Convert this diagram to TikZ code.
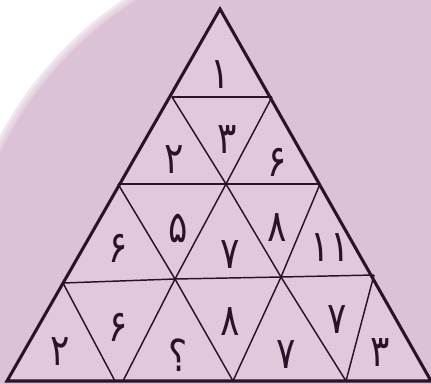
\documentclass[tikz,border=0pt]{standalone}
\usepackage{fontspec}
\newfontfamily\arabicfont[Script=Arabic, FakeStretch=0.82]{DejaVu Sans}
\usetikzlibrary{positioning}
\definecolor{pageBg}{RGB}{220,194,213}
\definecolor{cellFill}{RGB}{226,200,219}
\definecolor{lineInk}{RGB}{45,17,40}

\begin{document}
\begin{tikzpicture}[x=0.75pt, y=-0.75pt,
  outline/.style={draw=lineInk, line width=2.3pt, line join=miter},
  gridline/.style={draw=lineInk, line width=1.1pt},
  cellnum/.style={font=\arabicfont\fontsize{33}{33}\selectfont, text=lineInk, inner sep=0pt}]
  \useasboundingbox (0,0) rectangle (431,383);
  % background with the pale corner
  \fill[white] (0,0) rectangle (431,383);
  \begin{scope}
    \clip (0,0) rectangle (431,383);
    \foreach \d in {8,5,2}
      \fill[pageBg, opacity=0.4] (335,315) circle (372+\d);
    \fill[pageBg] (335,315) circle (372);
  \end{scope}
  % corners of the cells
  \coordinate (top) at (220,9);
  \coordinate (bl)  at (7,381);
  \coordinate (br)  at (431,381);
  \coordinate (r1l) at (172,97);
  \coordinate (r1r) at (272,97);
  \coordinate (r2l) at (118,184);
  \coordinate (r2m) at (226,184);
  \coordinate (r2r) at (320,184);
  \coordinate (r3l) at (63,283);
  \coordinate (r3a) at (175,279);
  \coordinate (r3b) at (281,277);
  \coordinate (r3r) at (374,275);
  \coordinate (b1)  at (115,381);
  \coordinate (b2)  at (123,381);
  \coordinate (b3)  at (233,381);
  \coordinate (b4)  at (346,381);
  \fill[cellFill] (top) -- (bl) -- (br) -- cycle;
  % inner lines
  \draw[gridline] (r1l) -- (r1r);
  \draw[gridline] (r1l) -- (r2m) -- (r1r);
  \draw[gridline] (r2l) -- (r2r);
  \draw[gridline] (r2l) -- (r3a) -- (r2m) -- (r3b) -- (r2r);
  \draw[gridline] (r3l) -- (r3a) -- (r3b) -- (r3r);
  \draw[gridline] (r3l) -- (b1);
  \draw[gridline] (r3a) -- (b2);
  \draw[gridline] (r3a) -- (b3) -- (r3b) -- (b4) -- (r3r);
  \draw[outline] (top) -- (bl) -- (br) -- cycle;
  % numbers
  \node[cellnum] (c1)  at (220,75)  {۱};
  \node[cellnum] (c2)  at (174,160) {۲};
  \node[cellnum] (c3)  at (227,140) {۳};
  \node[cellnum] (c4)  at (277,162) {۶};
  \node[cellnum] (c5)  at (118,248) {۶};
  \node[cellnum] (c6)  at (178,228) {۵};
  \node[cellnum] (c7)  at (230,255) {۷};
  \node[cellnum] (c8)  at (277,228) {۸};
  \node[cellnum] (c9)  at (330,248) {۱۱};
  \node[cellnum] (c10) at (60,352)  {۲};
  \node[cellnum] (c11) at (118,327) {۶};
  \node[cellnum] (c12) at (178,355) {؟};
  \node[cellnum] (c13) at (230,322) {۸};
  \node[cellnum] (c14) at (286,355) {۷};
  \node[cellnum] (c15) at (337,320) {۷};
  \node[cellnum] (c16) at (380,353) {۳};
\end{tikzpicture}
\end{document}
